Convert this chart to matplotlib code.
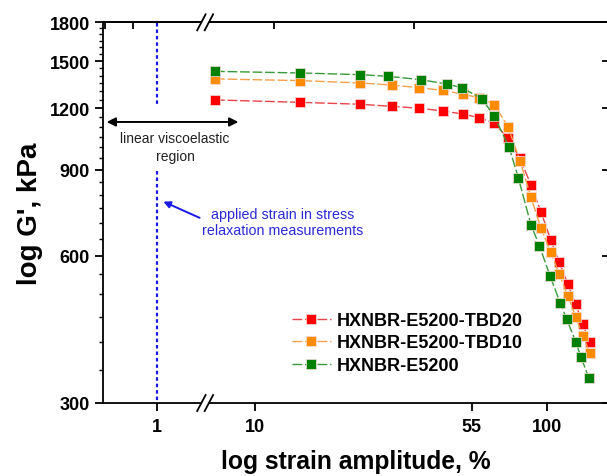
import numpy as np
import matplotlib
matplotlib.use("Agg")
import matplotlib.pyplot as plt
from matplotlib.ticker import FixedLocator, FixedFormatter, NullFormatter
from matplotlib.lines import Line2D
from matplotlib.patches import Polygon

plt.rcParams['font.family'] = ['Liberation Sans', 'DejaVu Sans']

# ---------------- data ----------------
strain_tbd = [7.3, 14.3, 22.8, 29.3, 36.5, 43.8, 51.3, 58.4, 65.8, 73.2,
              80.5, 87.8, 95.0, 102.5, 109.7, 117.3, 124.9, 131.9, 139.6]
g_tbd20 = [1249, 1235, 1224, 1212, 1201, 1186, 1169, 1149, 1119, 1044,
           949, 837, 738, 647, 582, 525, 478, 435, 399]
g_tbd10 = [1379, 1368, 1353, 1340, 1323, 1307, 1283, 1262, 1222, 1102,
           939, 790, 683, 611, 551, 497, 450, 412, 380]
strain_e5200 = [7.3, 14.3, 22.8, 28.5, 36.9, 45.3, 51.0, 59.7, 65.6, 73.9,
                79.5, 87.8, 93.8, 102.0, 110.6, 116.3, 125.2, 130.2, 138.7]
g_e5200 = [1429, 1418, 1407, 1396, 1374, 1346, 1323, 1255, 1160, 1000,
           865, 694, 629, 546, 480, 445, 399, 372, 337]

labels = ['HXNBR-E5200-TBD20', 'HXNBR-E5200-TBD10', 'HXNBR-E5200']
marker_colors = ['#ff0000', '#ff8c00', '#008000']
line_colors = ['#e8454a', '#f5a04a', '#3a9a3a']

x_ticks = [1, 10, 55, 100]
x_ticklabels = ['1', '10', '55', '100']
y_ticks = [300, 600, 900, 1200, 1500, 1800]
y_ticklabels = ['300', '600', '900', '1200', '1500', '1800']

applied_strain = 1.0
# ---------------- broken log x scale ----------------
U1 = 0.6643          # position (decades) where strain = 1 is drawn
XB = 6.75            # strain at the axis break
UB = np.log10(XB)


def fwd(x):
    x = np.asarray(x, float)
    with np.errstate(divide='ignore', invalid='ignore', over='ignore'):
        lx = np.log10(np.where(x > 0, x, 1e-300))
        return np.where(x >= XB, lx, U1 + (UB - U1) * lx / UB)


def inv(u):
    u = np.asarray(u, float)
    with np.errstate(over='ignore', invalid='ignore'):
        return np.where(u >= UB, 10.0 ** u, 10.0 ** ((u - U1) / (UB - U1) * UB))


W, H = 607, 477
fig = plt.figure(figsize=(W / 100, H / 100), dpi=100)
ax = fig.add_axes([102.6 / W, (H - 404) / H, (609 - 102.6) / W, (404 - 23.3) / H])
ax.set_xscale('function', functions=(fwd, inv))
ax.set_yscale('log')
ax.set_xlim(0.1167, 162.3)
ax.set_ylim(300, 1800)

series = [(strain_tbd, g_tbd20), (strain_tbd, g_tbd10), (strain_e5200, g_e5200)]
for (xs, ys), lab, mc, lc in zip(series, labels, marker_colors, line_colors):
    ax.plot(xs, ys, linestyle=(0, (7, 2)), color=lc, lw=1.0,
            marker='s', markersize=7, markerfacecolor=mc,
            markeredgecolor='#f4dede', markeredgewidth=0.5, label=lab, zorder=3)

# ticks
ax.xaxis.set_major_locator(FixedLocator(x_ticks))
ax.xaxis.set_major_formatter(FixedFormatter(x_ticklabels))
ax.xaxis.set_minor_locator(FixedLocator([]))
ax.yaxis.set_major_locator(FixedLocator(y_ticks))
ax.yaxis.set_major_formatter(FixedFormatter(y_ticklabels))
ax.yaxis.set_minor_locator(FixedLocator(list(range(350, 1800, 50))))
ax.yaxis.set_minor_formatter(NullFormatter())
ax.tick_params(axis='both', which='major', direction='out', length=6, width=1.3,
               labelsize=13, pad=3)
ax.tick_params(axis='x', which='major', pad=5)
ax.tick_params(axis='y', which='minor', direction='out', length=3, width=1.0)
for lab in ax.get_xticklabels() + ax.get_yticklabels():
    lab.set_fontweight('bold')
for sp in ax.spines.values():
    sp.set_linewidth(1.3)

sec_x = ax.secondary_xaxis('top')
sec_x.set_xticks(x_ticks)
sec_x.tick_params(direction='in', length=5, width=1.3, labeltop=False)
sec_x.spines['top'].set_linewidth(1.3)
sec_y = ax.secondary_yaxis('right')
sec_y.set_yticks(y_ticks)
sec_y.yaxis.set_minor_locator(FixedLocator([]))
sec_y.tick_params(direction='in', length=5, width=1.3, labelright=False)
sec_y.spines['right'].set_linewidth(1.3)

ax.set_xlabel('log strain amplitude, %', fontsize=17.7, fontweight='bold', labelpad=10)
ax.set_ylabel("log G', kPa", fontsize=20, fontweight='bold', labelpad=5)

# applied strain line
ax.plot([applied_strain, applied_strain], [1790, 1226], color='#1a1ae6', lw=1.6,
        linestyle=(0, (1.6, 1.3)), zorder=2)
ax.plot([applied_strain, applied_strain], [894, 300], color='#1a1ae6', lw=1.6,
        linestyle=(0, (1.6, 1.3)), zorder=2)

# linear viscoelastic region arrow
ax.annotate('', xy=(0.137, 1126), xytext=(8.77, 1126),
            arrowprops=dict(arrowstyle='<|-|>', color='black', lw=1.4,
                            mutation_scale=13, shrinkA=0, shrinkB=0))
ax.text(2.06, 1001, 'linear viscoelastic\nregion', ha='center', va='center',
        fontsize=10, color='#222222', linespacing=1.3)

ax.annotate('applied strain in stress\nrelaxation measurements',
            xy=(1.293, 774), xytext=(12.46, 703), ha='center', va='center',
            fontsize=10.3, color='#2a2ad8', linespacing=1.2,
            arrowprops=dict(arrowstyle='-|>', color='#1a1ae6', lw=1.4,
                            mutation_scale=10, shrinkA=0, shrinkB=0,
                            relpos=(0.0, 0.6)))

leg = ax.legend(loc='upper left', bbox_to_anchor=(0.359, 0.258), frameon=False,
                prop={'weight': 'bold', 'size': 13}, handlelength=2.2,
                handletextpad=0.3, labelspacing=0.3, borderaxespad=0)

# axis break marks
fig.canvas.draw()
bx = ax.transData.transform((XB, 1000))[0]
for yfrac in (0.0, 1.0):
    by = ax.transAxes.transform((0, yfrac))[1]
    inv_fig = fig.transFigure.inverted()
    gap = 7.5
    poly = [(bx - gap / 2 - 4.2, by - 8), (bx + gap / 2 - 4.2, by - 8),
            (bx + gap / 2 + 4.2, by + 8), (bx - gap / 2 + 4.2, by + 8)]
    fig.add_artist(Polygon([inv_fig.transform(p) for p in poly], closed=True,
                           facecolor='white', edgecolor='none',
                           transform=fig.transFigure, zorder=10))
    for dx in (-gap / 2, gap / 2):
        p0 = inv_fig.transform((bx + dx - 4.2, by - 8))
        p1 = inv_fig.transform((bx + dx + 4.2, by + 8))
        fig.add_artist(Line2D([p0[0], p1[0]], [p0[1], p1[1]], color='black',
                              lw=1.3, transform=fig.transFigure, zorder=11))

fig.savefig('out.png', dpi=100)
